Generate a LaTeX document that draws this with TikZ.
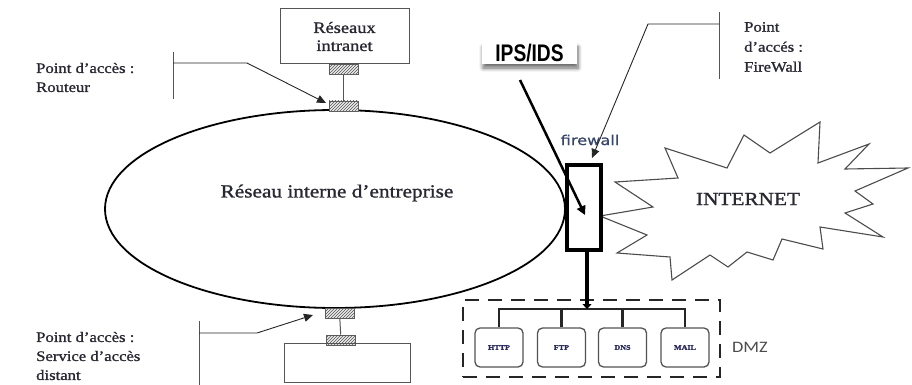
\documentclass[tikz,border=0pt]{standalone}
\usepackage{fontspec}
\setmainfont{Liberation Serif}[FakeStretch=1.15,FakeBold=1.2]
\newfontfamily\dmzfont{Carlito}[FakeStretch=1.15]
\newfontfamily\fwfont{DejaVu Sans}[FakeStretch=1.2,FakeBold=1]
\newfontfamily\ipsfont{Liberation Sans}[FakeStretch=0.8]
\usetikzlibrary{shapes.geometric,arrows.meta,patterns,shadows.blur}
\definecolor{txt}{RGB}{40,40,50}
\definecolor{linegray}{RGB}{85,85,85}
\definecolor{fwtxt}{RGB}{55,70,105}
\definecolor{srvtxt}{RGB}{40,40,90}
\tikzset{
  hatchbox/.style={draw=gray!75!black, line width=0.8pt, fill=gray!15,
    postaction={pattern=north east lines, pattern color=gray!65!black},
    minimum width=29pt, minimum height=10pt, inner sep=0pt},
  plainbox/.style={draw=linegray, line width=1pt, inner sep=0pt},
  bracket/.style={draw=linegray, line width=1pt},
  thinarrow/.style={draw=black!85, line width=0.9pt, -{Triangle[length=9pt,width=8pt]}},
  srvbox/.style={draw=gray!65!black, line width=1.3pt, rounded corners=5pt,
    minimum width=48pt, minimum height=39pt, inner sep=0pt,
    font=\fontsize{7}{8}\selectfont\bfseries, text=srvtxt},
  label/.style={text=txt, align=left, inner sep=0pt},
  busline/.style={draw=black!85, line width=2.2pt}
}
\begin{document}
\begin{tikzpicture}[x=1pt,y=-1pt]
\useasboundingbox (0,0) rectangle (912,385);

% intranet box
\node[plainbox, minimum width=129pt, minimum height=55pt, align=center, text=txt,
  font=\fontsize{16}{18}\selectfont] (intra) at (344.5,36.5) {Réseaux\\intranet};

% ellipse (internal network)
\node[draw, ellipse, line width=1.8pt, minimum width=460pt, minimum height=198pt, inner sep=0pt] (lan) at (335,209) {};
\node[text=txt, inner sep=0pt, font=\fontsize{18.5}{20}\selectfont] (lantxt) at (337,193) {Réseau interne d’entreprise};

% top access point
\node[hatchbox] (ht1) at (343.5,69) {};
\node[hatchbox] (ht2) at (343.5,106) {};
\draw[linegray, line width=1pt] (ht1) -- (ht2);

% bottom access point
\node[hatchbox] (hb1) at (339.5,313) {};
\node[hatchbox] (hb2) at (341,340) {};
\draw[linegray, line width=1pt] (hb1) -- (hb2);
\node[plainbox, minimum width=126pt, minimum height=39pt] (remote) at (347,362.5) {};

% left labels
\node[label, anchor=west, font=\fontsize{14.5}{19}\selectfont] (lblrouteur) at (36,77.5) {Point d’accès :\\Routeur};
\node[label, anchor=west, font=\fontsize{14.5}{19}\selectfont] (lblremote) at (36,356) {Point d’accès :\\Service d’accès\\distant};
\node[label, anchor=west, font=\fontsize{14.5}{20}\selectfont] (lblfw) at (744,47) {Point\\d’accés :\\FireWall};

% routeur bracket
\coordinate (r1) at (173,52);
\coordinate (r2) at (173,99);
\coordinate (rk) at (173,63);
\coordinate (rb) at (247,63);
\coordinate (rtip) at (326,103);
\draw[bracket] (r1) -- (r2);
\draw[thinarrow] (rk) -- (rb) -- (rtip);

% remote bracket
\coordinate (b1) at (199,321);
\coordinate (b2) at (199,385);
\coordinate (bk) at (199,333);
\coordinate (bb) at (257,333);
\coordinate (btip) at (313,315);
\draw[bracket] (b1) -- (b2);
\draw[thinarrow] (bk) -- (bb) -- (btip);

% internet star
\draw[draw=black!70, line width=1.1pt, fill=white]
  (665,148) -- (727,168) -- (744,135) -- (770,153) -- (820,122) -- (818,163)
  -- (869,144) -- (845,169) -- (908,168) -- (855,191) -- (873,204) -- (845,213)
  -- (883,237) -- (820,227) -- (823,249) -- (782,239) -- (773,260) -- (747,252)
  -- (728,267) -- (710,255) -- (672,280) -- (670,257) -- (617,253) -- (647,235)
  -- (600,216) -- (653,207) -- (615,182) -- (678,178) -- cycle;
\node[text=txt, inner sep=0pt, font=\fontsize{18.5}{20}\selectfont] (inet) at (748,199) {INTERNET};

% firewall
\node[draw, line width=4pt, minimum width=34pt, minimum height=85pt, inner sep=0pt, fill=white] (fw) at (584,207.5) {};
\node[text=fwtxt, inner sep=0pt, font=\fwfont\fontsize{13.5}{14}\selectfont] (fwlbl) at (590,140) {firewall};

% firewall access bracket
\coordinate (f1) at (719,12);
\coordinate (f2) at (719,79);
\coordinate (fk) at (719,24);
\coordinate (fb) at (648,24);
\coordinate (ftip) at (592,158);
\draw[bracket] (f1) -- (f2);
\draw[thinarrow] (fk) -- (fb) -- (ftip);

% IPS/IDS
\node[fill=white, inner sep=0pt, minimum width=95pt, minimum height=21pt,
  blur shadow={shadow xshift=1pt, shadow yshift=-4pt, shadow blur steps=6, shadow blur radius=4pt, shadow opacity=60},
  font=\ipsfont\bfseries\fontsize{24}{24}\selectfont] (ips) at (529.5,53.5) {IPS/IDS};
\coordinate (ipsstart) at (520,80);
\coordinate (fwin) at (585,215);
\draw[line width=2.5pt, -{Triangle[length=9pt,width=9pt]}] (ipsstart) -- (fwin);

% DMZ
\node[draw=black!85, dash pattern=on 14pt off 9pt, line width=2pt, minimum width=257pt, minimum height=77pt, inner sep=0pt] (dmz) at (591.5,338.5) {};
\node[text=black!70, inner sep=0pt, font=\dmzfont\fontsize{16}{18}\selectfont] (dmzlbl) at (750,347) {DMZ};

\node[srvbox] (http) at (499,347.5) {HTTP};
\node[srvbox] (ftp) at (561.5,347.5) {FTP};
\node[srvbox] (dns) at (622.5,347.5) {DNS};
\node[srvbox] (mail) at (685,347.5) {MAIL};

\draw[busline] (http.north) -- ++(0,-18) coordinate (bl) -| (mail.north);
\draw[busline] (ftp.north) -- (ftp.north |- bl);
\draw[busline] (dns.north) -- (dns.north |- bl);
\coordinate (busmid) at (587,309);
\draw[line width=4pt, -{Triangle[length=5pt,width=9pt]}] (fw.south -| busmid) -- (busmid);
\end{tikzpicture}
\end{document}
